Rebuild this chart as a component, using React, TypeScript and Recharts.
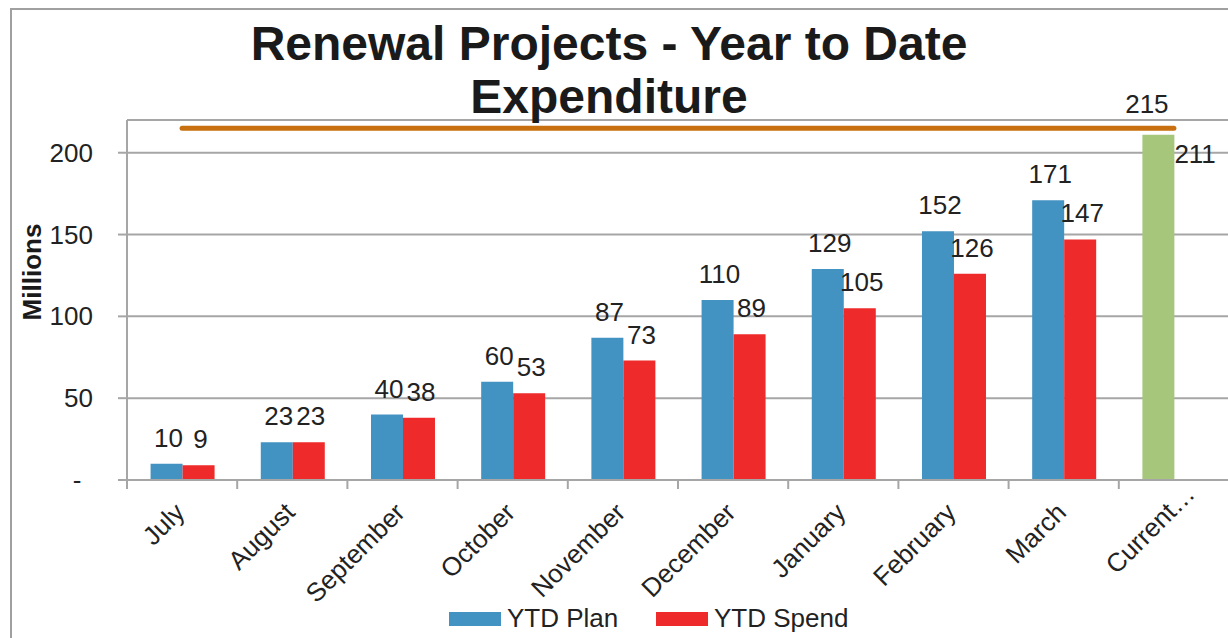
import { ComposedChart, Bar, Line, XAxis, YAxis, CartesianGrid, Cell, LabelList } from "recharts";

const categories = ["July", "August", "September", "October", "November", "December", "January", "February", "March", "Current…"];
const ytdPlan = [10, 23, 40, 60, 87, 110, 129, 152, 171, null];
const ytdSpend = [9, 23, 38, 53, 73, 89, 105, 126, 147, null];
const currentForecast = [null, null, null, null, null, null, null, null, null, 211];
const annualBudget = [215, 215, 215, 215, 215, 215, 215, 215, 215, 215];
const yTicks = [0, 50, 100, 150, 200];

const BLUE = "#4292c2";
const RED = "#ee2a2a";
const GREEN = "#a6c77b";
const ORANGE = "#c8700f";
const GRID = "#a6a6a6";
const FONT = "'Liberation Sans', Arial, sans-serif";
const FS = 26;

const data = categories.map((name, i) => ({
  name,
  plan: ytdPlan[i],
  spend: ytdSpend[i],
  forecast: currentForecast[i],
  budget: annualBudget[i],
}));

const planOrForecast = (d: any) => d.plan ?? d.forecast;

function YTick({ x, y, payload }: any) {
  const isZero = payload.value === 0;
  return (
    <text
      x={isZero ? 77 : x - 23}
      y={y + 9}
      textAnchor={isZero ? "middle" : "end"}
      fontSize={FS}
      fontFamily={FONT}
      fill="#222"
    >
      {isZero ? "-" : payload.value}
    </text>
  );
}

function XTick(props: any) {
  const { x, y, payload, index, width, visibleTicksCount } = props;
  const half = payload.offset ?? width / (visibleTicksCount || categories.length) / 2;
  const tx = x + 4;
  const ty = y + 34;
  const label = String(payload.value);
  const truncated = label.endsWith("…");
  return (
    <g>
      <line x1={x - half} x2={x - half} y1={y} y2={y + 9} stroke={GRID} strokeWidth={2} />
      {index === categories.length - 1 && (
        <line x1={x + half} x2={x + half} y1={y} y2={y + 9} stroke={GRID} strokeWidth={2} />
      )}
      <g transform={`rotate(-45, ${tx}, ${ty})`}>
        <text x={tx} y={ty} textAnchor="end" fontSize={FS} fontFamily={FONT} fill="#222">
          {truncated ? label.slice(0, -1) : label}
        </text>
        {truncated && (
          <text x={tx} y={ty} textAnchor="start" fontSize={FS} fontFamily={FONT} fill="#222">
            …
          </text>
        )}
      </g>
    </g>
  );
}

function PlanLabel(props: any) {
  const { x, y, width, value, index } = props;
  if (value == null) return null;
  if (currentForecast[index] != null) {
    return (
      <text x={x + width} y={y + 28} textAnchor="start" fontSize={FS} fontFamily={FONT} fill="#222">
        {value}
      </text>
    );
  }
  return (
    <text x={x + width / 2 + 2} y={y - 17} textAnchor="middle" fontSize={FS} fontFamily={FONT} fill="#222">
      {value}
    </text>
  );
}

function SpendLabel(props: any) {
  const { x, y, width, value } = props;
  if (value == null) return null;
  return (
    <text x={x + width / 2 + 2} y={y - 17} textAnchor="middle" fontSize={FS} fontFamily={FONT} fill="#222">
      {value}
    </text>
  );
}

function BudgetLabel(props: any) {
  const { x, y, value, index } = props;
  if (index !== categories.length - 1) return null;
  return (
    <text x={x - 27} y={y - 15} textAnchor="middle" fontSize={FS} fontFamily={FONT} fill="#222">
      {value}
    </text>
  );
}

export default function App() {
  return (
    <div
      style={{
        position: "absolute",
        left: 0,
        top: 0,
        width: 1228,
        height: 638,
        overflow: "hidden",
        background: "#fff",
        fontFamily: FONT,
      }}
    >
      {/* frame */}
      <div
        style={{
          position: "absolute",
          left: 10,
          top: 8,
          width: 1240,
          height: 700,
          borderLeft: "2px solid #a0a0a0",
          borderTop: "2px solid #a0a0a0",
        }}
      />

      <ComposedChart
        width={1240}
        height={638}
        data={data}
        margin={{ top: 120, right: 11, bottom: 0, left: 67 }}
        barCategoryGap="21.4%"
        barGap={0}
        style={{ position: "absolute", left: 0, top: 0 }}
      >
        <CartesianGrid vertical={false} stroke={GRID} strokeWidth={2} />
        <XAxis
          dataKey="name"
          height={158}
          interval={0}
          axisLine={{ stroke: GRID, strokeWidth: 2 }}
          tickLine={false}
          tickSize={0}
          tickMargin={0}
          tick={<XTick />}
        />
        <YAxis
          width={60}
          domain={[0, 220]}
          ticks={yTicks}
          axisLine={{ stroke: GRID, strokeWidth: 2 }}
          tickLine={{ stroke: GRID, strokeWidth: 2 }}
          tickSize={9}
          tick={<YTick />}
        />
        <Bar dataKey={planOrForecast} name="YTD Plan" fill={BLUE} isAnimationActive={false}>
          {data.map((d, i) => (
            <Cell key={i} fill={d.forecast != null ? GREEN : BLUE} />
          ))}
          <LabelList dataKey={planOrForecast} content={<PlanLabel />} />
        </Bar>
        <Bar dataKey="spend" name="YTD Spend" fill={RED} isAnimationActive={false}>
          <LabelList dataKey="spend" content={<SpendLabel />} />
        </Bar>
        <Line
          dataKey="budget"
          stroke={ORANGE}
          strokeWidth={5}
          strokeLinecap="round"
          dot={false}
          activeDot={false}
          isAnimationActive={false}
        >
          <LabelList dataKey="budget" content={<BudgetLabel />} />
        </Line>
      </ComposedChart>

      {/* title */}
      <div
        style={{
          position: "absolute",
          left: 0,
          top: 16.9,
          width: 1218,
          textAlign: "center",
          fontSize: 48,
          fontWeight: "bold",
          lineHeight: "53px",
          color: "#1a1a1a",
        }}
      >
        Renewal Projects - Year to Date
        <br />
        Expenditure
      </div>

      {/* y axis title */}
      <div
        style={{
          position: "absolute",
          left: 32,
          top: 272,
          transform: "translate(-50%, -50%) rotate(-90deg)",
          fontSize: 26,
          fontWeight: "bold",
          color: "#1a1a1a",
          whiteSpace: "nowrap",
        }}
      >
        Millions
      </div>

      {/* legend */}
      <div style={{ position: "absolute", left: 449, top: 612, width: 52, height: 14, background: BLUE }} />
      <div style={{ position: "absolute", left: 507, top: 603, fontSize: FS, lineHeight: "30px", color: "#222" }}>
        YTD Plan
      </div>
      <div style={{ position: "absolute", left: 656, top: 612, width: 52, height: 14, background: RED }} />
      <div style={{ position: "absolute", left: 714, top: 603, fontSize: FS, lineHeight: "30px", color: "#222" }}>
        YTD Spend
      </div>
    </div>
  );
}
